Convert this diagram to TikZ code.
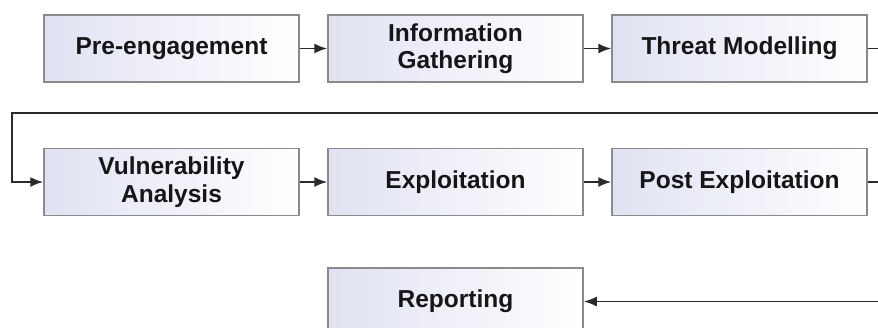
\documentclass[tikz,border=0pt]{standalone}
\usepackage{fontspec}
\setmainfont{Liberation Sans}
\usetikzlibrary{arrows.meta}
\definecolor{boxedge}{HTML}{8A8A8A}
\definecolor{boxleft}{HTML}{E0E2F2}
\definecolor{wire}{HTML}{2A2A2A}
\definecolor{ink}{HTML}{161616}
\tikzset{
  stage/.style={draw=boxedge, line width=1.5pt, left color=boxleft, right color=white,
    minimum width=255pt, minimum height=67pt, inner sep=0pt, align=center,
    text=ink, font=\bfseries\fontsize{24.5}{27.5}\selectfont},
  wireline/.style={draw=wire, line width=1.7pt},
  flow/.style={wireline, -{Latex[length=13pt,width=10pt]}}
}
\begin{document}
\begin{tikzpicture}[x=1pt,y=-1pt]
  \useasboundingbox (0,0) rectangle (878,327);
  \clip (0,0) rectangle (878,327);
  % first row
  \node[stage] (pre)  at (171.5,48.5) {Pre-engagement};
  \node[stage] (info) at (455.5,48.5) {Information\\Gathering};
  \node[stage] (tm)   at (739.5,48.5) {Threat Modelling};
  % second row
  \node[stage] (va)   at (171.5,182) {Vulnerability\\Analysis};
  \node[stage] (expl) at (455.5,182) {Exploitation};
  \node[stage] (post) at (739.5,182) {Post Exploitation};
  % final stage
  \node[stage] (rep)  at (455.5,301.5) {Reporting};
  % off-edge turning points
  \coordinate (out1) at (878,48.5);
  \coordinate (in2)  at (878,113);
  \coordinate (bend) at (12,113);
  \coordinate (out2) at (878,182);
  \coordinate (in3)  at (878,301.5);
  % connectors
  \draw[flow] (pre) -- (info);
  \draw[flow] (info) -- (tm);
  \draw[wireline] (tm) -- (out1);
  \draw[flow] (in2) -- (bend) |- (va);
  \draw[flow] (va) -- (expl);
  \draw[flow] (expl) -- (post);
  \draw[wireline] (post) -- (out2);
  \draw[flow] (in3) -- (rep);
\end{tikzpicture}
\end{document}
